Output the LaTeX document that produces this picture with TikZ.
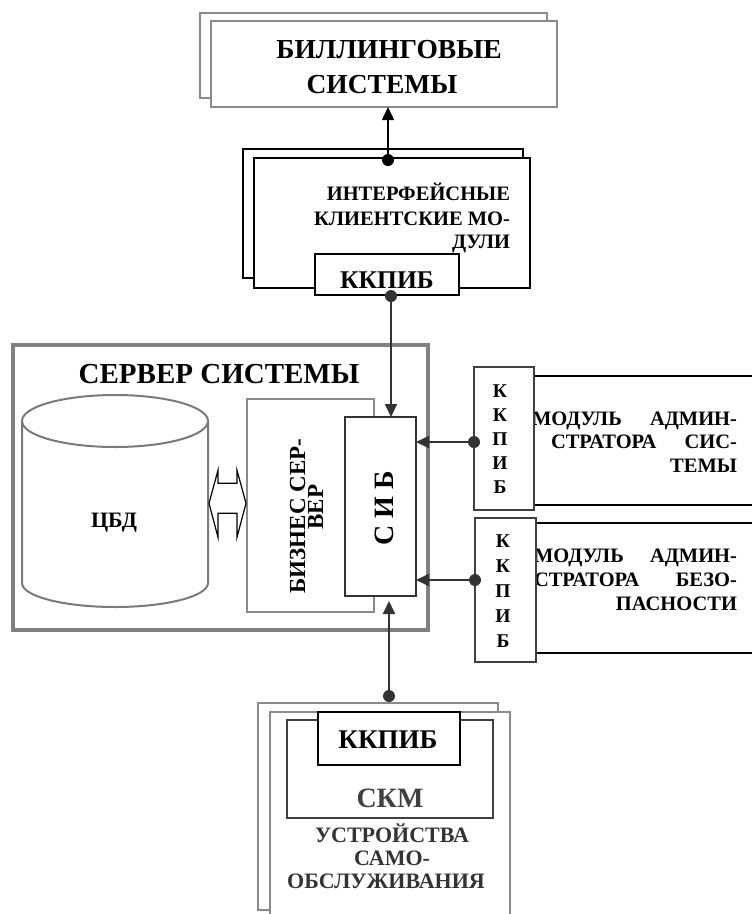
\documentclass[tikz,border=0pt]{standalone}
\usepackage{fontspec}
\setmainfont{Liberation Serif}
\usetikzlibrary{arrows.meta,calc}

\definecolor{frameg}{HTML}{8A8A8A}
\definecolor{servg}{HTML}{808080}
\definecolor{dbg}{HTML}{7A7A7A}
\definecolor{dark}{HTML}{333333}
\definecolor{darkbox}{HTML}{404040}

\begin{document}
\begin{tikzpicture}[x=1pt,y=-1pt,
  box/.style={rectangle, inner sep=0pt, outer sep=0pt, anchor=north west},
  gbox/.style={box, draw=frameg, line width=2pt, fill=white},
  kbox/.style={box, draw=black, line width=1.5pt, fill=white},
  dbox/.style={box, draw=darkbox, line width=2pt, fill=white},
  lbl/.style={font=\bfseries\fontsize{#1}{#1}\selectfont, inner sep=0pt, outer sep=0pt, anchor=base},
  conn/.style={draw=dark, line width=2pt, -{Triangle[length=13pt,width=12pt]}},
  dotr/.style={fill=dark},
  modline/.style={draw=black, line width=2.5pt}
]
\useasboundingbox (0,0) rectangle (752,914);

% ---------- billing systems ----------
\node[gbox, minimum width=347pt, minimum height=85pt] (bback) at (200,13) {};
\node[gbox, minimum width=346pt, minimum height=86pt] (bfront) at (211,21) {};
\node[lbl=27.5] (bt1) at (389,58) {БИЛЛИНГОВЫЕ};
\node[lbl=27.5] (bt2) at (382,93) {СИСТЕМЫ};

% ---------- interface client modules ----------
\node[box, draw=black, line width=2.5pt, fill=white, minimum width=280pt, minimum height=129pt] (iback) at (243,149) {};
\node[box, draw=black, line width=2.5pt, fill=white, minimum width=276pt, minimum height=130pt] (ifront) at (254,158) {};
\node[lbl=20.5, anchor=base east] (it1) at (510,200) {ИНТЕРФЕЙСНЫЕ};
\node[lbl=20.5, anchor=base east] (it2) at (510,225) {КЛИЕНТСКИЕ МО-};
\node[lbl=20.5, anchor=base east] (it3) at (510,248) {ДУЛИ};
\node[kbox, minimum width=144pt, minimum height=41pt] (ikk) at (315,254) {};
\node[lbl=25.5] (ikkt) at (387,288) {ККПИБ};

% ---------- system server ----------
\node[box, draw=servg, line width=3.5pt, minimum width=415pt, minimum height=285pt] (srv) at (13,345) {};
\node[lbl=29] (srvt) at (219,383) {СЕРВЕР СИСТЕМЫ};

% central database (cylinder)
\node[box, minimum width=186pt, minimum height=212pt] (db) at (22,395) {};
\draw[draw=dbg, line width=2pt]
  (22,421) -- (22,583) arc[start angle=180, end angle=360, x radius=93pt, y radius=24pt] -- (208,421);
\draw[draw=dbg, line width=2pt] (115,421) ellipse [x radius=93pt, y radius=26pt];
\node[lbl=22] (dbt) at (114,527) {ЦБД};

% business server
\node[box, draw=frameg, line width=2pt, minimum width=127pt, minimum height=213pt] (bs) at (247,399) {};
\node[lbl=23, rotate=90] (bst1) at (305,516) {БИЗНЕС СЕР-};
\node[lbl=23, rotate=90] (bst2) at (323,507) {ВЕР};

% hollow double arrow between database and business server
\coordinate (lk) at ($(db.east)!0.5!(bs.west)$);
\draw[black, line width=1.2pt, fill=white, shift={(lk)}]
  (-18.5,0) -- (-9.5,-33) -- (-9.5,-20) -- (9.5,-20) -- (9.5,-33)
  -- (18.5,0) -- (9.5,34) -- (9.5,10) -- (-9.5,10) -- (-9.5,34) -- cycle;

% information security server
\node[box, draw=dark, line width=1.5pt, fill=white, minimum width=71pt, minimum height=179pt] (sib) at (345,417) {};
\node[lbl=28, rotate=90] (sibt) at (393,508) {С И Б};

% ---------- system administrator module ----------
\node[box, minimum width=218pt, minimum height=129pt] (adm1) at (534,376) {};
\draw[modline] (adm1.north west) -- (adm1.north east);
\draw[modline] (adm1.south west) -- (adm1.south east);
\node[lbl=20.5, anchor=base west] (a1w1) at (532,425) {МОДУЛЬ};
\node[lbl=20.5, anchor=base east] (a1w2) at (737,425) {АДМИН-};
\node[lbl=20.5, anchor=base west] (a1w3) at (551,448) {СТРАТОРА};
\node[lbl=20.5, anchor=base east] (a1w4) at (737,448) {СИС-};
\node[lbl=20.5, anchor=base east] (a1w5) at (737,472) {ТЕМЫ};
\node[dbox, minimum width=60pt, minimum height=143pt] (adm1k) at (474,367) {};
\foreach \ch [count=\i] in {К,К,П,И,Б}
  \node[lbl=19.5] (a1k\i) at (500,{397+24*(\i-1)}) {\ch};

% ---------- security administrator module ----------
\node[box, minimum width=216pt, minimum height=130pt] (adm2) at (536,523) {};
\draw[modline] (adm2.north west) -- (adm2.north east);
\draw[modline] (adm2.south west) -- (adm2.south east);
\node[lbl=20.5, anchor=base west] (a2w1) at (534,562) {МОДУЛЬ};
\node[lbl=20.5, anchor=base east] (a2w2) at (737,562) {АДМИН-};
\node[lbl=20.5, anchor=base west] (a2w3) at (534,586) {СТРАТОРА};
\node[lbl=20.5, anchor=base east] (a2w4) at (737,586) {БЕЗО-};
\node[lbl=20.5, anchor=base east] (a2w5) at (737,610) {ПАСНОСТИ};
\node[dbox, minimum width=61pt, minimum height=144pt] (adm2k) at (475,518) {};
\foreach \ch [count=\i] in {К,К,П,И,Б}
  \node[lbl=19.5] (a2k\i) at (503,{547+25*(\i-1)}) {\ch};

% ---------- self-service devices ----------
\node[gbox, minimum width=240pt, minimum height=207pt] (sback) at (258,703) {};
\node[box, fill=white, minimum width=240pt, minimum height=202pt] (sfront) at (270,712) {};
\draw[frameg, line width=2pt] (sfront.south west) -- (sfront.north west) -- (sfront.north east) -- (sfront.south east);
\node[box, draw=darkbox, line width=1.5pt, minimum width=206pt, minimum height=98pt] (skm) at (287,720) {};
\node[kbox, minimum width=142pt, minimum height=53pt] (skk) at (318,712) {};
\node[lbl=27] (skkt) at (388,748) {ККПИБ};
\node[lbl=28, text=darkbox] (skmt) at (390,807) {СКМ};
\node[lbl=22, text=dark] (st1) at (392,842) {УСТРОЙСТВА};
\node[lbl=22, text=dark] (st2) at (392,865) {САМО-};
\node[lbl=22, text=dark] (st3) at (386,888) {ОБСЛУЖИВАНИЯ};

% ---------- connectors ----------
\coordinate (bx) at (388,0);
\coordinate (vx) at (391,0);
\coordinate (sx) at (389,0);
\coordinate (h1) at (0,442);
\coordinate (h2) at (0,580);

% interface modules -> billing systems
\draw[conn, draw=black, line width=1.5pt] (bx |- ifront.north) -- (bx |- bfront.south);
\fill[black] ([yshift=-2pt]bx |- ifront.north) circle (6pt);

% interface modules -> security server
\draw[conn] (vx |- ikk.south) -- (vx |- sib.north);
\fill[dotr] ([yshift=-1pt]vx |- ikk.south) circle (6pt);

% administrator modules -> security server
\draw[conn] (adm1k.west |- h1) -- (sib.east |- h1);
\fill[dotr] (adm1k.west |- h1) circle (6pt);
\draw[conn] (adm2k.west |- h2) -- (sib.east |- h2);
\fill[dotr] (adm2k.west |- h2) circle (6pt);

% self-service devices -> security server
\draw[conn] ([yshift=7pt]sx |- sback.north) -- ([yshift=-5pt]sx |- sib.south);
\fill[dotr] ([yshift=7pt]sx |- sback.north) circle (6pt);

\end{tikzpicture}
\end{document}
